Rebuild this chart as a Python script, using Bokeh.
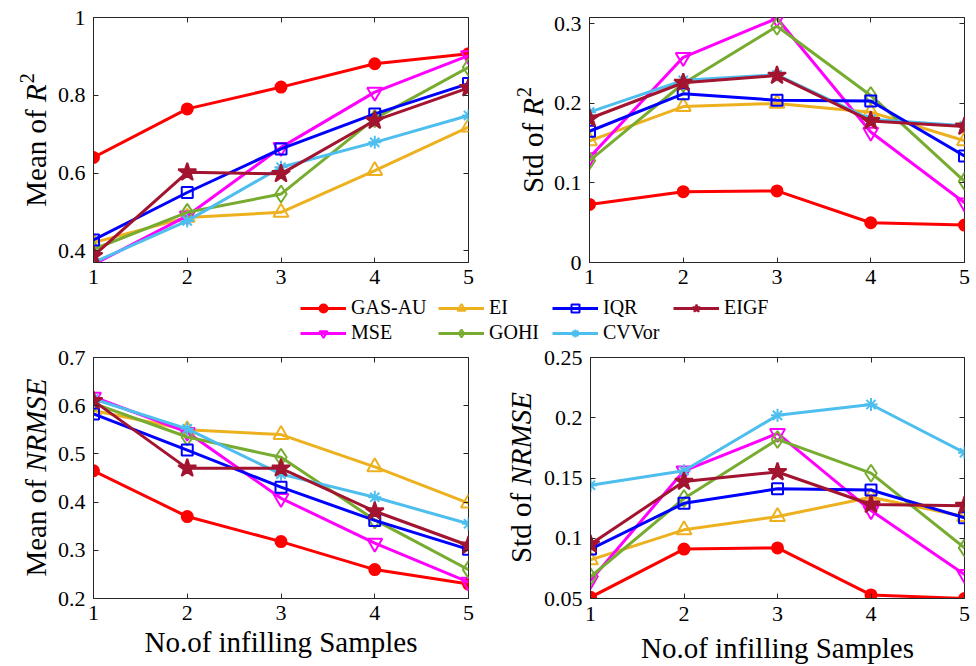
from math import pi
from bokeh.plotting import figure
from bokeh.layouts import column, row
from bokeh.models import (Range1d, FixedTicker, NumeralTickFormatter, LinearAxis,
                          Label, Legend, LegendItem, CustomJSTickFormatter)
from bokeh.embed import file_html
from bokeh.resources import INLINE

# ---------------- data ----------------
samples = [1, 2, 3, 4, 5]
methods = ["GAS-AU", "EI", "IQR", "EIGF", "MSE", "GOHI", "CVVor"]

# Mean of R^2
mean_r2_gas_au = [0.640, 0.765, 0.821, 0.881, 0.907]
mean_r2_ei     = [0.421, 0.486, 0.499, 0.606, 0.718]
mean_r2_iqr    = [0.428, 0.550, 0.662, 0.752, 0.830]
mean_r2_eigf   = [0.387, 0.602, 0.598, 0.735, 0.819]
mean_r2_mse    = [0.365, 0.490, 0.666, 0.808, 0.902]
mean_r2_gohi   = [0.404, 0.499, 0.546, 0.740, 0.872]
mean_r2_cvvor  = [0.370, 0.477, 0.615, 0.679, 0.748]

# Std of R^2
std_r2_gas_au = [0.073, 0.089, 0.090, 0.050, 0.047]
std_r2_ei     = [0.153, 0.196, 0.200, 0.189, 0.153]
std_r2_iqr    = [0.165, 0.212, 0.204, 0.203, 0.134]
std_r2_eigf   = [0.181, 0.226, 0.235, 0.178, 0.171]
std_r2_mse    = [0.132, 0.258, 0.307, 0.164, 0.075]
std_r2_gohi   = [0.128, 0.225, 0.297, 0.210, 0.102]
std_r2_cvvor  = [0.189, 0.229, 0.236, 0.180, 0.172]

# Mean of NRMSE
mean_nrmse_gas_au = [0.465, 0.370, 0.318, 0.260, 0.230]
mean_nrmse_ei     = [0.590, 0.550, 0.540, 0.473, 0.398]
mean_nrmse_iqr    = [0.583, 0.508, 0.431, 0.362, 0.302]
mean_nrmse_eigf   = [0.610, 0.470, 0.470, 0.381, 0.310]
mean_nrmse_mse    = [0.618, 0.545, 0.408, 0.315, 0.234]
mean_nrmse_gohi   = [0.605, 0.535, 0.493, 0.363, 0.260]
mean_nrmse_cvvor  = [0.614, 0.552, 0.458, 0.410, 0.355]

# Std of NRMSE
std_nrmse_gas_au = [0.051, 0.091, 0.092, 0.053, 0.050]
std_nrmse_ei     = [0.082, 0.107, 0.118, 0.134, 0.118]
std_nrmse_iqr    = [0.091, 0.129, 0.141, 0.140, 0.117]
std_nrmse_eigf   = [0.095, 0.147, 0.155, 0.128, 0.127]
std_nrmse_mse    = [0.065, 0.156, 0.187, 0.123, 0.070]
std_nrmse_gohi   = [0.068, 0.133, 0.182, 0.154, 0.092]
std_nrmse_cvvor  = [0.144, 0.156, 0.202, 0.211, 0.171]

yticks_mean_r2 = [0.4, 0.6, 0.8, 1.0]
yticks_std_r2 = [0.0, 0.1, 0.2, 0.3]
yticks_mean_nrmse = [0.2, 0.3, 0.4, 0.5, 0.6, 0.7]
yticks_std_nrmse = [0.05, 0.1, 0.15, 0.2, 0.25]

xlabel_text = "No.of infilling Samples"

# ---------------- styles ----------------
FONT = "'Liberation Serif', 'Times New Roman', serif"
styles = {
    "GAS-AU": dict(color="#FF0000", marker="circle", size=11, fill=True),
    "EI":     dict(color="#EDB120", marker="triangle", size=15, fill=False),
    "IQR":    dict(color="#0000FF", marker="square", size=11, fill=False),
    "EIGF":   dict(color="#A2142F", marker="star", size=19, fill=True),
    "MSE":    dict(color="#FF00FF", marker="inverted_triangle", size=15, fill=False),
    "GOHI":   dict(color="#77AC30", marker="diamond", size=17, fill=False),
    "CVVor":  dict(color="#4DBEEE", marker="asterisk", size=13, fill=False),
}
draw_order = ["GAS-AU", "EI", "MSE", "GOHI", "CVVor", "IQR", "EIGF"]

# approximate Times advance widths (em) for label layout
W_UP = {"M": .889, "e": .444, "a": .444, "n": .5, " ": .25, "o": .5, "f": .333,
        "S": .556, "t": .278, "d": .5, "2": .5}
W_IT = {"N": .667, "R": .611, "M": .833, "S": .5, "E": .611}


def tw(s, fs, italic=False):
    table = W_IT if italic else W_UP
    return sum(table.get(c, .5) for c in s) * fs


def add_marks(p, series, size_scale=1.0):
    rs = {}
    for name in draw_order:
        st = styles[name]
        ys = series[name]
        rl = p.line(samples, ys, line_color=st["color"], line_width=3)
        rm = p.scatter(samples, ys, marker=st["marker"], size=st["size"] * size_scale,
                       line_color=st["color"], line_width=2,
                       fill_color=st["color"] if st["fill"] else None)
        rs[name] = (rl, rm)
    return rs


def blank(width, height):
    f = figure(width=width, height=height, output_backend="svg", toolbar_location=None,
               x_range=Range1d(0, 1), y_range=Range1d(0, 1), min_border=0,
               x_axis_location=None, y_axis_location=None)
    f.xgrid.visible = False
    f.ygrid.visible = False
    f.outline_line_color = None
    return f


def make_panel(yr, yticks, series, width, height, bl, br, bt, bb, xstand,
               xlabel=None, xlab_stand=0):
    p = figure(width=width, height=height, output_backend="svg", toolbar_location=None,
               x_range=Range1d(1, 5), y_range=Range1d(*yr),
               min_border_left=bl, min_border_right=br, min_border_top=bt,
               min_border_bottom=bb)
    p.xgrid.visible = False
    p.ygrid.visible = False
    p.outline_line_color = "#262626"
    p.outline_line_width = 1
    add_marks(p, series)
    for ax, ticks in ((p.xaxis[0], samples), (p.yaxis[0], yticks)):
        ax.ticker = FixedTicker(ticks=ticks)
        ax.formatter = NumeralTickFormatter(format="0.[00]")
        ax.major_tick_in = 5
        ax.major_tick_out = 0
        ax.minor_tick_line_color = None
        ax.axis_line_color = "#262626"
        ax.major_tick_line_color = "#262626"
        ax.major_label_text_font = FONT
        ax.major_label_text_font_size = "22px"
        ax.major_label_text_color = "black"
    p.xaxis[0].major_label_standoff = xstand
    p.yaxis[0].major_label_standoff = 8
    if xlabel:
        p.xaxis[0].axis_label = xlabel
        p.xaxis[0].axis_label_text_font = FONT
        p.xaxis[0].axis_label_text_font_size = "29px"
        p.xaxis[0].axis_label_text_font_style = "normal"
        p.xaxis[0].axis_label_text_color = "black"
        p.xaxis[0].axis_label_standoff = xlab_stand
    # mirrored ticks (box on)
    for loc, ticks in (("above", samples), ("right", yticks)):
        ax = LinearAxis(ticker=FixedTicker(ticks=ticks),
                        formatter=CustomJSTickFormatter(code="return ''"),
                        major_tick_in=5, major_tick_out=0,
                        minor_tick_line_color=None, axis_line_color=None,
                        major_tick_line_color="#262626",
                        major_label_standoff=0,
                        major_label_text_font_size="1px")
        p.add_layout(ax, loc)
    return p


def ylabel_fig(width, height, parts, baseline_x, ycenter):
    """Vertical (rotated) axis title built from pieces, each centre-anchored.
    y is measured from the bottom of the (row-aligned) frame."""
    f = blank(width, height)
    total = sum(tw(t, fs, it) + gap for t, fs, it, sup, gap in parts)
    y = ycenter - total / 2.0
    for text, fs, italic, sup, gap in parts:
        w = tw(text, fs, italic)
        cx = baseline_x - sup - 0.3375 * fs
        f.add_layout(Label(x=cx, y=y + w / 2.0, x_units="screen", y_units="screen",
                           text=text, angle=pi / 2, text_font=FONT,
                           text_font_size=f"{fs}px",
                           text_font_style="italic" if italic else "normal",
                           text_align="center", text_baseline="middle",
                           text_color="black"))
        y += w + gap
    return f


LFS = 29

series_mean_r2 = dict(zip(methods, [mean_r2_gas_au, mean_r2_ei, mean_r2_iqr, mean_r2_eigf,
                                    mean_r2_mse, mean_r2_gohi, mean_r2_cvvor]))
series_std_r2 = dict(zip(methods, [std_r2_gas_au, std_r2_ei, std_r2_iqr, std_r2_eigf,
                                   std_r2_mse, std_r2_gohi, std_r2_cvvor]))
series_mean_nrmse = dict(zip(methods, [mean_nrmse_gas_au, mean_nrmse_ei, mean_nrmse_iqr,
                                       mean_nrmse_eigf, mean_nrmse_mse, mean_nrmse_gohi,
                                       mean_nrmse_cvvor]))
series_std_nrmse = dict(zip(methods, [std_nrmse_gas_au, std_nrmse_ei, std_nrmse_iqr,
                                      std_nrmse_eigf, std_nrmse_mse, std_nrmse_gohi,
                                      std_nrmse_cvvor]))

# top row (height 295, frames 245 high, frame left edges at 90 and 587)
p1 = make_panel((0.37, 1.0), yticks_mean_r2, series_mean_r2, 436, 295, 36, 22, 17, 33, 7)
p2 = make_panel((0.0, 0.308), yticks_std_r2, series_std_r2, 426, 295, 37, 12, 17, 33, 7)
# bottom row (height 320, frames 242 high)
p3 = make_panel((0.2, 0.7), yticks_mean_nrmse, series_mean_nrmse, 436, 320, 36, 22, 11, 67, 7,
                xlabel=xlabel_text, xlab_stand=3)
p4 = make_panel((0.05, 0.25), yticks_std_nrmse, series_std_nrmse, 436, 320, 47, 12, 11, 67, 8,
                xlabel=xlabel_text, xlab_stand=8)

r2_parts_mean = [("Mean of", LFS, False, 0, 0.25 * LFS), ("R", LFS, True, 0, 1),
                 ("2", 20, False, 12, 0)]
r2_parts_std = [("Std of", LFS, False, 0, 0.25 * LFS), ("R", LFS, True, 0, 1),
                ("2", 20, False, 12, 0)]
nr_parts_mean = [("Mean of", LFS, False, 0, 0.25 * LFS), ("NRMSE", LFS, True, 0, 0)]
nr_parts_std = [("Std of", LFS, False, 0, 0.25 * LFS), ("NRMSE", LFS, True, 0, 0)]

# rows align frames, so the label figures share the panels' frame (245 / 242 high)
yl1 = ylabel_fig(54, 295, r2_parts_mean, 45, 122.5)
yl2 = ylabel_fig(60, 295, r2_parts_std, 52, 122.5)
yl3 = ylabel_fig(54, 320, nr_parts_mean, 45, 121)
yl4 = ylabel_fig(50, 320, nr_parts_std, 40, 121)

# ---------------- legend strip ----------------
leg = blank(976, 51)
leg.x_range = Range1d(100, 101)  # keeps the legend's source lines out of view
leg_rs = add_marks(leg, series_mean_r2, size_scale=0.95)
items = {name: LegendItem(label=name, renderers=list(leg_rs[name])) for name in methods}

cols = [(["GAS-AU", "MSE"], 300), (["EI", "GOHI"], 438), (["IQR", "CVVor"], 552),
        (["EIGF"], 673)]
for names, xpos in cols:
    ypos = 2 if len(names) == 2 else 27
    lg = Legend(items=[items[n] for n in names], location=(xpos, ypos),
                orientation="vertical", padding=0, margin=0, spacing=2,
                glyph_width=46, glyph_height=20, label_height=20, label_standoff=5,
                label_text_font=FONT, label_text_font_size="20px",
                label_text_color="black",
                border_line_color=None, background_fill_alpha=0)
    leg.add_layout(lg)

layout = column(row(yl1, p1, yl2, p2), leg, row(yl3, p3, yl4, p4))
open("out.html", "w").write(file_html(layout, INLINE))
